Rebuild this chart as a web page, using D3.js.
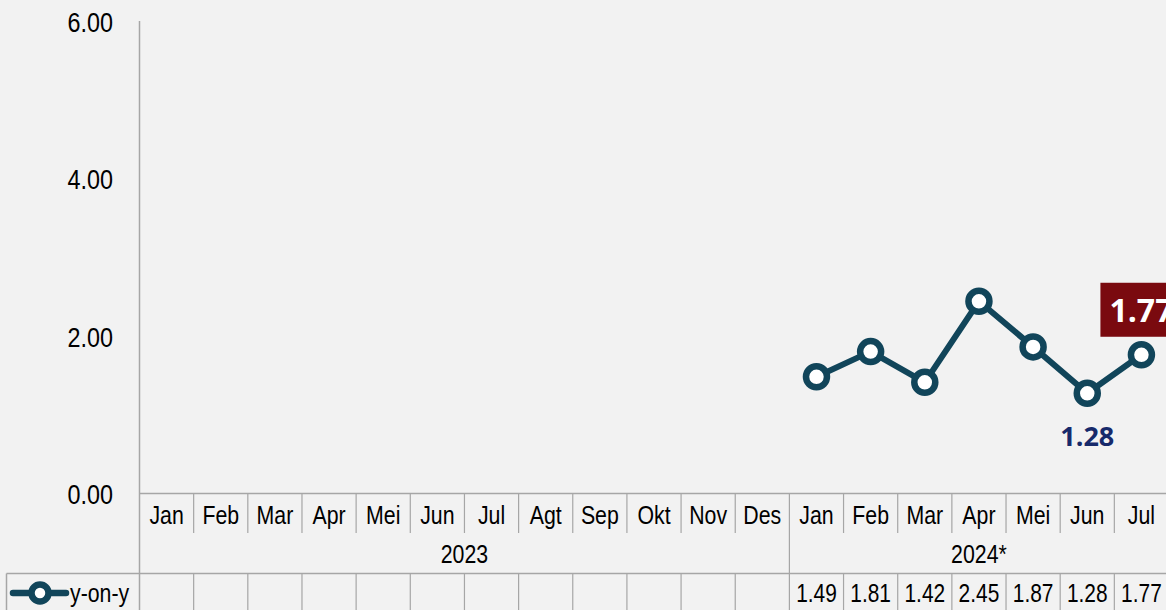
<!DOCTYPE html>
<html>
<head>
<meta charset="utf-8">
<style>
body { margin: 0; background: #F2F2F2; overflow: hidden; }
svg { display: block; }
</style>
</head>
<body>
<svg width="1166" height="610"></svg>
<script src="https://cdn.jsdelivr.net/npm/d3@7/dist/d3.min.js"></script>
<script>
// data
var months = ["Jan","Feb","Mar","Apr","Mei","Jun","Jul","Agt","Sep","Okt","Nov","Des",
              "Jan","Feb","Mar","Apr","Mei","Jun","Jul"];
var years = [{label: "2023", from: 0, to: 12}, {label: "2024*", from: 12, to: 19}];
var yoy = [null,null,null,null,null,null,null,null,null,null,null,null,
           1.49,1.81,1.42,2.45,1.87,1.28,1.77];
var yTicks = [0, 2, 4, 6];

// no Arial Narrow here, so squeeze Liberation Sans horizontally
var narrow = "'Liberation Sans', Arial, sans-serif";
var squeeze = 0.82;
var bold = "'Open Sans', 'Noto Sans', sans-serif";
var lineColor = "#11455A", gridColor = "#A6A6A6";

var svg = d3.select("svg");

var x = d3.scaleBand().domain(d3.range(months.length)).range([139.5, 1168.5]).padding(0);
var y = d3.scaleLinear().domain([0, 6]).range([494, 22]);

var rowMonth = [493.5, 533], rowYear = [533, 573.5], rowData = [573.5, 610];

// helper for condensed text
function narrowText(sel, size, anchor) {
  return sel.append("text")
    .attr("text-anchor", anchor)
    .attr("dy", "0.35em")
    .style("font-family", narrow).style("font-size", size + "px").style("fill", "#000");
}
function place(px, py) {
  return "translate(" + px + "," + py + ") scale(" + squeeze + ",1)";
}

// y axis labels
yTicks.forEach(function(t){
  narrowText(svg, 28.5, "end")
    .attr("transform", place(113, y(t)))
    .text(d3.format(".2f")(t));
});

// axis line
svg.append("line").attr("x1", 139.5).attr("x2", 139.5).attr("y1", 21).attr("y2", 610)
    .style("stroke", gridColor).style("stroke-width", 1.5);

// category axis line + table lines
svg.append("line").attr("x1", 139.5).attr("x2", 1166).attr("y1", rowMonth[0]).attr("y2", rowMonth[0])
    .style("stroke", gridColor).style("stroke-width", 1.5);
svg.append("line").attr("x1", 6.5).attr("x2", 1166).attr("y1", rowData[0]).attr("y2", rowData[0])
    .style("stroke", gridColor).style("stroke-width", 1.5);
svg.append("line").attr("x1", 6.5).attr("x2", 6.5).attr("y1", rowData[0]).attr("y2", 610)
    .style("stroke", gridColor).style("stroke-width", 1.5);

var bounds = d3.range(1, months.length + 1);
svg.selectAll(".mdiv").data(bounds).enter().append("line")
    .attr("x1", function(i){ return x(i - 1) + x.bandwidth(); })
    .attr("x2", function(i){ return x(i - 1) + x.bandwidth(); })
    .attr("y1", rowMonth[0])
    .attr("y2", function(i){ return (i === 12 || i === 19) ? rowYear[1] : rowMonth[1]; })
    .style("stroke", gridColor).style("stroke-width", 1.2);

svg.selectAll(".ddiv").data(bounds).enter().append("line")
    .attr("x1", function(i){ return x(i - 1) + x.bandwidth(); })
    .attr("x2", function(i){ return x(i - 1) + x.bandwidth(); })
    .attr("y1", rowData[0]).attr("y2", 610)
    .style("stroke", gridColor).style("stroke-width", 1.2);

// month labels
months.forEach(function(m, i){
  narrowText(svg, 26, "middle")
    .attr("transform", place(x(i) + x.bandwidth() / 2, (rowMonth[0] + rowMonth[1]) / 2 + 2))
    .text(m);
});

// year labels
years.forEach(function(d){
  narrowText(svg, 26, "middle")
    .attr("transform", place((x(d.from) + x(d.to - 1) + x.bandwidth()) / 2, (rowYear[0] + rowYear[1]) / 2 + 1))
    .text(d.label);
});

// data row values
yoy.forEach(function(v, i){
  if (v == null) return;
  narrowText(svg, 25.5, "middle")
    .attr("transform", place(x(i) + x.bandwidth() / 2, (rowData[0] + rowData[1]) / 2 + 1))
    .text(d3.format(".2f")(v));
});

// legend key
svg.append("line").attr("x1", 13).attr("x2", 66).attr("y1", 593).attr("y2", 593)
    .style("stroke", lineColor).style("stroke-width", 6.5).style("stroke-linecap", "round");
svg.append("circle").attr("cx", 40).attr("cy", 593).attr("r", 8.5)
    .style("fill", "#fff").style("stroke", lineColor).style("stroke-width", 6.5);
narrowText(svg, 26, "start").attr("transform", place(70, 593)).text("y-on-y");

// the line
var pts = yoy.map(function(v, i){ return {i: i, v: v}; }).filter(function(d){ return d.v != null; });
var line = d3.line()
    .x(function(d){ return x(d.i) + x.bandwidth() / 2; })
    .y(function(d){ return y(d.v); });

svg.append("path").datum(pts).attr("d", line)
    .style("fill", "none").style("stroke", lineColor).style("stroke-width", 6)
    .style("stroke-linejoin", "round");

svg.selectAll(".pt").data(pts).enter().append("circle")
    .attr("cx", function(d){ return x(d.i) + x.bandwidth() / 2; })
    .attr("cy", function(d){ return y(d.v); })
    .attr("r", 10.5)
    .style("fill", "#fff").style("stroke", lineColor).style("stroke-width", 6.5);

// highlighted labels
var jun = pts[pts.length - 2], jul = pts[pts.length - 1];
svg.append("text")
    .attr("x", x(jun.i) + x.bandwidth() / 2).attr("y", y(jun.v) + 43)
    .attr("dy", "0.35em").attr("text-anchor", "middle")
    .style("font-family", bold).style("font-weight", "bold").style("font-size", "27px")
    .style("fill", "#172A6B")
    .text(d3.format(".2f")(jun.v));

var jx = x(jul.i) + x.bandwidth() / 2, jy = y(jul.v);
svg.append("rect").attr("x", jx - 41).attr("y", jy - 72).attr("width", 80).attr("height", 54)
    .style("fill", "#7A0A0F");
svg.append("text").attr("x", jx - 32).attr("y", jy - 44).attr("dy", "0.35em")
    .style("font-family", bold).style("font-weight", "bold").style("font-size", "32px")
    .style("fill", "#fff")
    .text(d3.format(".2f")(jul.v));
</script>
</body>
</html>
